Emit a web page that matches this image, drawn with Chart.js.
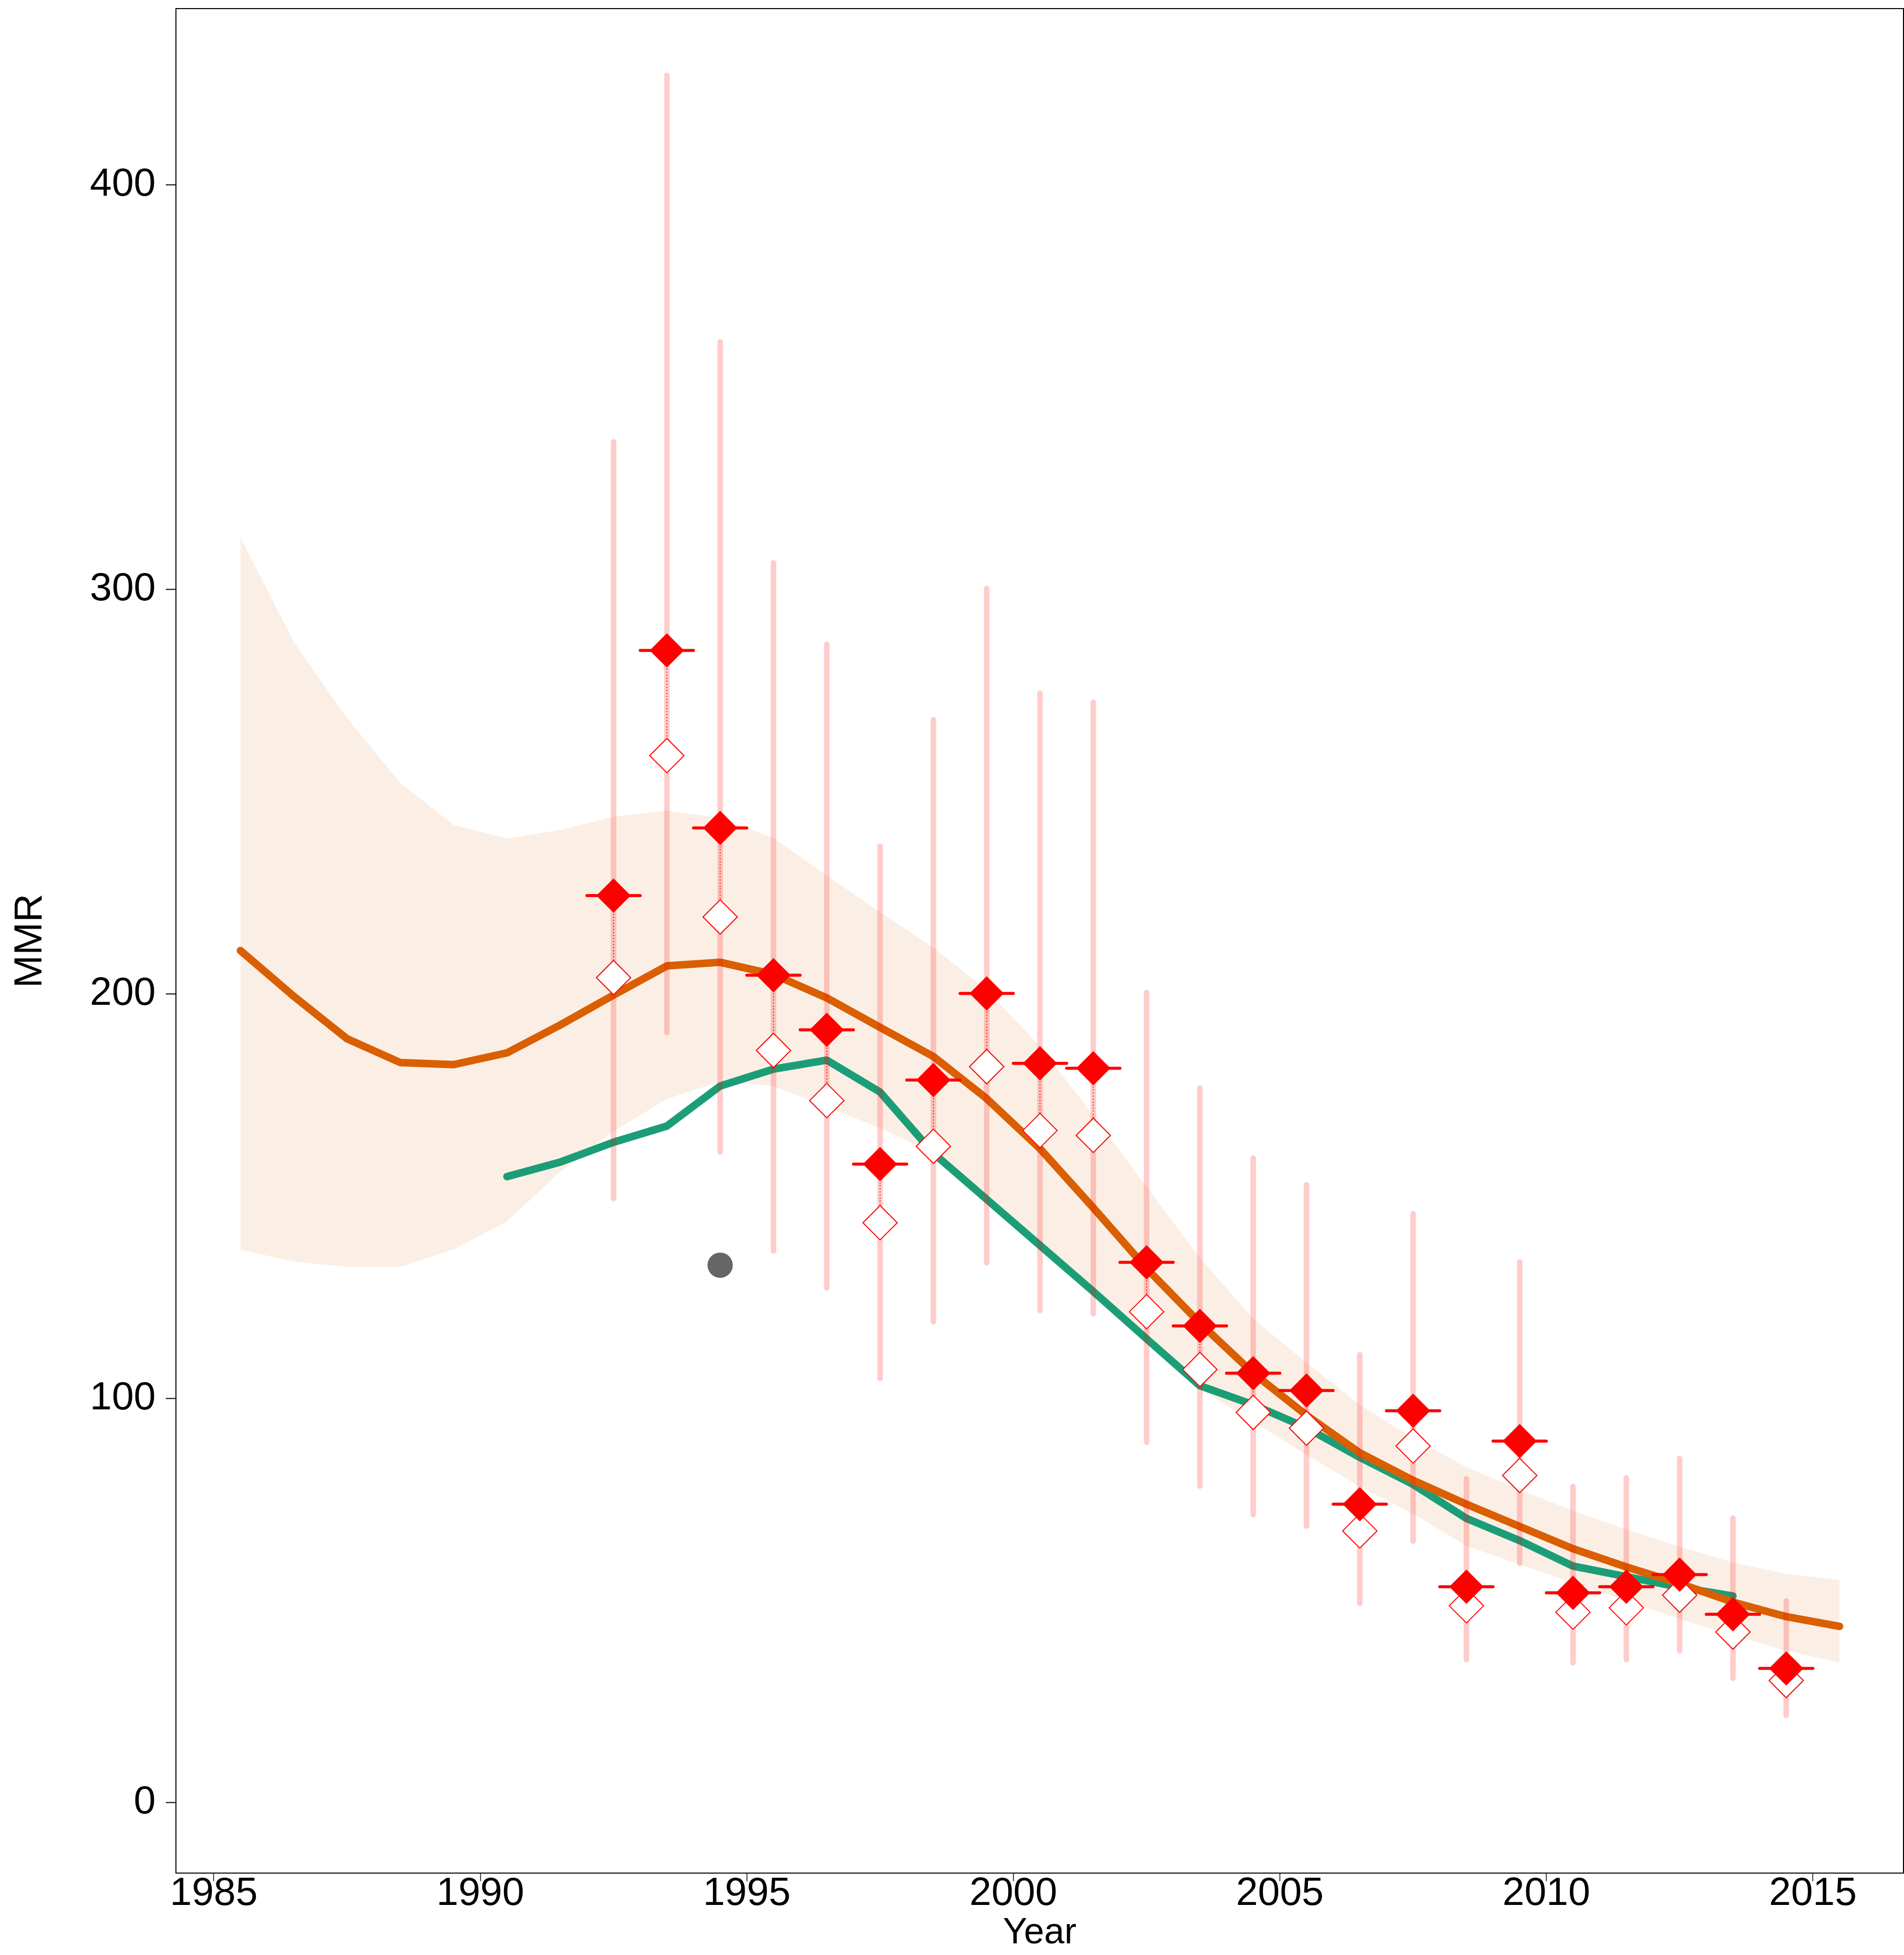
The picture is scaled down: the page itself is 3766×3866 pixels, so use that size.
<!DOCTYPE html>
<html lang="en">
<head>
  <meta charset="UTF-8" />
  <title>MMR by year</title>
  <script src="https://cdn.jsdelivr.net/npm/chart.js"></script>
  <style>
    body {
      margin: 0;
      padding: 0;
      background: #fff;
    }
    canvas {
      display: block;
    }
  </style>
</head>
<body>
  <canvas id="mmrChart" width="3766" height="3866"></canvas>

  <script>
    // estimate (orange) with its band, one value per year
    const fitYears = [1985.5, 1986.5, 1987.5, 1988.5, 1989.5, 1990.5, 1991.5, 1992.5, 1993.5, 1994.5,
      1995.5, 1996.5, 1997.5, 1998.5, 1999.5, 2000.5, 2001.5, 2002.5, 2003.5, 2004.5,
      2005.5, 2006.5, 2007.5, 2008.5, 2009.5, 2010.5, 2011.5, 2012.5, 2013.5, 2014.5, 2015.5];
    const fitMMR = [210.7, 199.4, 188.9, 183.0, 182.5, 185.4, 192.3, 199.7, 206.9, 207.8,
      204.8, 199.0, 191.7, 184.5, 174.1, 161.7, 147.1, 132.1, 118.6, 106.2,
      95.8, 86.5, 79.7, 73.8, 68.3, 62.8, 58.3, 54.2, 49.6, 46.0, 43.6];
    const fitUpper = [312.9, 287.0, 268.2, 252.1, 241.8, 238.4, 240.5, 243.8, 245.3, 243.5,
      238.5, 229.3, 220.2, 211.4, 201.0, 187.0, 170.0, 152.3, 134.7, 119.7,
      108.8, 98.4, 90.1, 83.0, 77.4, 72.2, 67.6, 63.3, 59.4, 56.6, 55.1];
    const fitLower = [136.7, 133.8, 132.5, 132.5, 136.8, 143.7, 156.0, 166.0, 174.0, 178.3,
      177.2, 172.0, 166.8, 160.6, 148.7, 137.3, 125.9, 114.2, 102.3, 94.3,
      86.0, 78.2, 71.4, 63.5, 58.9, 54.4, 49.9, 45.4, 41.3, 37.6, 34.6];

    // second estimate (green)
    const altYears = [1990.5, 1991.5, 1992.5, 1993.5, 1994.5, 1995.5, 1996.5, 1997.5, 1998.5, 1999.5,
      2000.5, 2001.5, 2002.5, 2003.5, 2004.5, 2005.5, 2006.5, 2007.5, 2008.5, 2009.5,
      2010.5, 2011.5, 2012.5, 2013.5];
    const altMMR = [154.8, 158.4, 163.3, 167.3, 177.2, 181.4, 183.6, 175.7, 160.6, 149.2,
      137.8, 126.4, 114.7, 103.1, 98.4, 92.7, 85.4, 78.7, 70.3, 64.8,
      58.5, 55.9, 53.3, 51.1];

    // observations: adjusted (filled), unadjusted (open), and their ranges
    const obsYears = [1992.5, 1993.5, 1994.5, 1995.5, 1996.5, 1997.5, 1998.5, 1999.5, 2000.5, 2001.5,
      2002.5, 2003.5, 2004.5, 2005.5, 2006.5, 2007.5, 2008.5, 2009.5, 2010.5, 2011.5,
      2012.5, 2013.5, 2014.5];
    const obsMMR = [224.3, 284.9, 241.0, 204.6, 191.1, 157.9, 178.7, 200.1, 182.8, 181.6,
      133.6, 117.9, 106.2, 101.9, 73.8, 96.9, 53.4, 89.4, 51.9, 53.4,
      56.4, 46.6, 33.2];
    const rawMMR = [204.0, 258.9, 219.0, 186.0, 173.6, 143.4, 162.3, 182.0, 166.2, 165.0,
      121.4, 107.1, 96.5, 92.6, 67.2, 88.2, 48.7, 80.9, 47.1, 48.2,
      51.3, 42.2, 30.2];
    const obsUpper = [336.5, 427.1, 361.2, 306.6, 286.4, 236.5, 267.8, 300.2, 274.3, 272.1,
      200.3, 176.7, 159.4, 152.8, 110.8, 145.6, 80.1, 133.7, 78.2, 80.3,
      85.1, 70.4, 49.9];
    const obsLower = [149.4, 190.4, 160.9, 136.4, 127.3, 104.9, 118.9, 133.5, 121.7, 120.9,
      89.1, 78.3, 71.2, 68.4, 49.3, 64.7, 35.4, 59.2, 34.6, 35.4,
      37.6, 30.8, 21.6];

    // single excluded point (grey)
    const otherYears = [1994.5];
    const otherMMR = [132.9];

    const xTicks = [1985, 1990, 1995, 2000, 2005, 2010, 2015];
    const yTicks = [0, 100, 200, 300, 400];

    const pts = (xs, ys) => xs.map((x, i) => ({ x: x, y: ys[i] }));

    // vertical ranges, separated by gaps
    const rangeSegs = obsYears.flatMap((x, i) => [
      { x: x, y: obsLower[i] }, { x: x, y: obsUpper[i] }, { x: x, y: null }
    ]);
    // dotted link from adjusted to unadjusted value
    const linkSegs = obsYears.flatMap((x, i) => [
      { x: x, y: obsMMR[i] }, { x: x, y: rawMMR[i] }, { x: x, y: null }
    ]);
    // horizontal bar spanning the year of each observation
    const spanSegs = obsYears.flatMap((x, i) => [
      { x: x - 0.5, y: obsMMR[i] }, { x: x + 0.5, y: obsMMR[i] }, { x: x, y: null }
    ]);

    const font = { family: "'Liberation Sans', Arial, sans-serif", size: 78 };

    const frame = {
      id: 'frame',
      afterDraw(chart) {
        const a = chart.chartArea;
        const c = chart.ctx;
        c.save();
        c.strokeStyle = '#000';
        c.lineWidth = 2;
        c.strokeRect(a.left, a.top, a.right - a.left, a.bottom - a.top);
        c.restore();
      }
    };

    const noPad = s => {
      s.paddingTop = 0;
      s.paddingBottom = 0;
      s.paddingLeft = 0;
      s.paddingRight = 0;
    };

    const ctx = document.getElementById('mmrChart').getContext('2d');
    new Chart(ctx, {
      type: 'line',
      data: {
        datasets: [
          {
            label: 'other',
            data: pts(otherYears, otherMMR),
            showLine: false,
            pointStyle: 'circle',
            pointRadius: 25,
            pointBackgroundColor: '#666666',
            pointBorderWidth: 0,
            order: 0
          },
          {
            label: 'adjusted',
            data: pts(obsYears, obsMMR),
            showLine: false,
            pointStyle: 'rectRot',
            pointRadius: 34,
            pointBackgroundColor: '#ff0000',
            pointBorderColor: '#ff0000',
            pointBorderWidth: 0,
            order: 1
          },
          {
            label: 'span',
            data: spanSegs,
            borderColor: '#ff0000',
            borderWidth: 6,
            borderCapStyle: 'round',
            pointRadius: 0,
            spanGaps: false,
            order: 2
          },
          {
            label: 'unadjusted',
            data: pts(obsYears, rawMMR),
            showLine: false,
            pointStyle: 'rectRot',
            pointRadius: 34,
            pointBackgroundColor: '#ffffff',
            pointBorderColor: '#ff0000',
            pointBorderWidth: 2,
            order: 3
          },
          {
            label: 'link',
            data: linkSegs,
            borderColor: '#ff0000',
            borderWidth: 2,
            borderDash: [2, 4],
            pointRadius: 0,
            spanGaps: false,
            order: 4
          },
          {
            label: 'range',
            data: rangeSegs,
            borderColor: 'rgba(255, 0, 0, 0.2)',
            borderWidth: 11,
            borderCapStyle: 'round',
            pointRadius: 0,
            spanGaps: false,
            order: 5
          },
          {
            label: 'estimate',
            data: pts(fitYears, fitMMR),
            borderColor: '#d95f02',
            borderWidth: 15,
            borderCapStyle: 'round',
            borderJoinStyle: 'round',
            pointRadius: 0,
            order: 6
          },
          {
            label: 'alternative',
            data: pts(altYears, altMMR),
            borderColor: '#1b9e77',
            borderWidth: 15,
            borderCapStyle: 'round',
            borderJoinStyle: 'round',
            pointRadius: 0,
            order: 7
          },
          {
            label: 'upper',
            data: pts(fitYears, fitUpper),
            borderColor: 'transparent',
            borderWidth: 0,
            backgroundColor: 'rgba(217, 95, 2, 0.1)',
            pointRadius: 0,
            fill: '+1',
            order: 8
          },
          {
            label: 'lower',
            data: pts(fitYears, fitLower),
            borderColor: 'transparent',
            borderWidth: 0,
            pointRadius: 0,
            fill: false,
            order: 9
          }
        ]
      },
      options: {
        responsive: false,
        devicePixelRatio: 1,
        animation: false,
        elements: { line: { tension: 0 } },
        layout: { autoPadding: false, padding: { top: 17, right: 1, left: 0, bottom: 0 } },
        plugins: {
          legend: { display: false },
          tooltip: { enabled: false }
        },
        scales: {
          x: {
            type: 'linear',
            min: 1984.29,
            max: 2016.7,
            afterBuildTicks: s => { s.ticks = xTicks.map(v => ({ value: v })); },
            afterFit: s => { s.height = 162; noPad(s); },
            grid: { drawOnChartArea: false, drawTicks: true, tickLength: 16, tickColor: '#000', tickWidth: 1.5 },
            border: { display: false },
            ticks: {
              padding: -21,
              autoSkip: false,
              maxRotation: 0,
              color: '#000',
              font: font,
              callback: v => String(v)
            },
            title: {
              display: true,
              text: 'Year',
              color: '#000',
              font: { family: font.family, size: 72 },
              padding: { top: 0, bottom: 0 }
            }
          },
          y: {
            type: 'linear',
            min: -17.4,
            max: 443.6,
            afterBuildTicks: s => { s.ticks = yTicks.map(v => ({ value: v })); },
            afterFit: s => { s.width = 348; noPad(s); },
            grid: { drawOnChartArea: false, drawTicks: true, tickLength: 20, tickColor: '#000', tickWidth: 2 },
            border: { display: false },
            ticks: {
              padding: 20,
              color: '#000',
              font: font,
              callback: v => String(v)
            },
            title: {
              display: true,
              text: 'MMR',
              color: '#000',
              font: font,
              padding: { top: 14, bottom: 0 }
            }
          }
        }
      },
      plugins: [frame]
    });
  </script>
</body>
</html>
